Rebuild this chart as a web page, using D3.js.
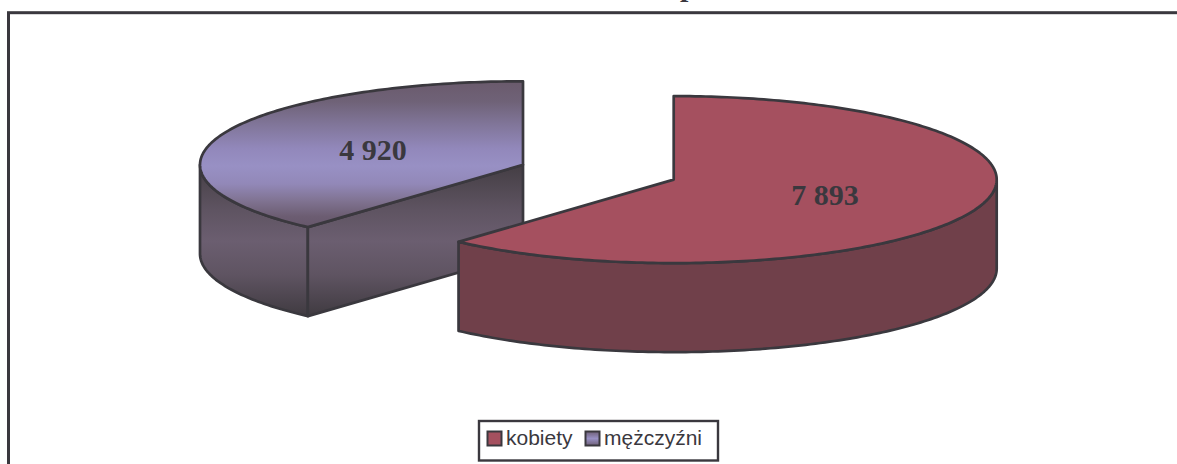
<!DOCTYPE html>
<html><head><meta charset="utf-8">
<script src="https://cdn.jsdelivr.net/npm/d3@7"></script>
<style>html,body{margin:0;padding:0;background:#fff;overflow:hidden}svg{display:block}</style>
</head><body><svg id="c" width="1177" height="464"></svg>
<script>
const categories = ["kobiety", "mężczyźni"];
const values = [7893, 4920];
const valueLabels = ["7 893", "4 920"];
const centers = [[673.7, 179.6], [523, 164.8]];
const labelPos = [[825, 205], [373, 160]];
const topColors = ["#a5505f", "#9890c4"];
const titleFragment = "p";
const INK = "#3a383e";
const RX = 323, RY = 83.5, DEPTH = 89;

const svg = d3.select("#c");
const defs = svg.append("defs");

function vgrad(id, y1, y2, stops, units) {
  const g = defs.append("linearGradient").attr("id", id);
  if (units) g.attr("gradientUnits", "userSpaceOnUse").attr("x1", 0).attr("x2", 0).attr("y1", y1).attr("y2", y2);
  else g.attr("x1", 0).attr("x2", 0).attr("y1", 0).attr("y2", 1);
  stops.forEach(s => g.append("stop").attr("offset", s[0]).attr("stop-color", s[1]));
}
vgrad("blueTop", 81, 228, [[0, "#6a5a6c"], [.14, "#6f6277"], [.3, "#81769a"], [.46, "#9288bb"], [.58, "#9890c4"], [.7, "#9288b8"], [.82, "#7f7290"], [.92, "#6c5d72"], [1, "#66566a"]], true);
vgrad("blueSide", 165, 317, [[0, "#443e44"], [.3, "#5f5462"], [.5, "#6b5e70"], [.72, "#5f5462"], [1, "#3f3a40"]], true);
vgrad("blueSwatch", 0, 1, [[0, "#6f6078"], [.5, "#9890c4"], [1, "#6f6078"]], false);

const pie = d3.pie().sort(null).value(d => d);
const arcs = pie(values);
const line = d3.line();

function geometry(i) {
  const [cx, cy] = centers[i];
  const x = d3.scaleLinear().domain([-1, 1]).range([cx - RX, cx + RX]);
  const y = d3.scaleLinear().domain([-1, 1]).range([cy - RY, cy + RY]);
  const pt = (a, dz = 0) => [x(Math.sin(a)), y(-Math.cos(a)) + dz];
  const sweep = (a0, a1, dz = 0) => {
    const n = Math.ceil(Math.abs(a1 - a0) * 60);
    return d3.range(n + 1).map(k => pt(a0 + (a1 - a0) * k / n, dz));
  };
  return { cx, cy, pt, sweep };
}
const shape = (pts, fill) => svg.append("path")
  .attr("d", line(pts) + "Z").attr("fill", fill)
  .attr("stroke", INK).attr("stroke-width", 2.7).attr("stroke-linejoin", "round");

// mężczyźni slice (behind)
{
  const a = arcs[1], g = geometry(1);
  const c = [g.cx, g.cy], cd = [g.cx, g.cy + DEPTH];
  const s = a.startAngle, e = a.endAngle;
  shape([...g.sweep(s, 3 * Math.PI / 2), ...g.sweep(3 * Math.PI / 2, s, DEPTH)], "url(#blueSide)");
  shape([c, g.pt(s), g.pt(s, DEPTH), cd], "url(#blueSide)");
  shape([c, ...g.sweep(s, e)], "url(#blueTop)");
}
// kobiety slice (front)
{
  const a = arcs[0], g = geometry(0);
  const s = a.startAngle, e = a.endAngle;
  shape([...g.sweep(Math.PI / 2, e), ...g.sweep(e, Math.PI / 2, DEPTH)], "#70404a");
  shape([[g.cx, g.cy], ...g.sweep(s, e)], topColors[0]);
}

svg.selectAll("text.val").data(valueLabels).join("text").attr("class", "val")
  .attr("x", (d, i) => labelPos[i][0]).attr("y", (d, i) => labelPos[i][1])
  .attr("text-anchor", "middle")
  .attr("font-family", "'Liberation Serif', serif").attr("font-weight", "bold")
  .attr("font-size", 30).attr("fill", INK).text(d => d);

// the only part of the cropped title still visible
svg.append("text").attr("x", 680).attr("y", -4.5)
  .attr("font-family", "'Liberation Serif', serif").attr("font-weight", "bold")
  .attr("font-size", 30).attr("fill", INK).text(titleFragment);

// frame
svg.append("rect").attr("x", 8.5).attr("y", 12.7).attr("width", 1300).attr("height", 600)
  .attr("fill", "none").attr("stroke", INK).attr("stroke-width", 3);

// legend
const legend = svg.append("g");
legend.append("rect").attr("x", 479).attr("y", 421).attr("width", 239).attr("height", 39.5)
  .attr("fill", "#fff").attr("stroke", INK).attr("stroke-width", 2.4);
const legendX = [487.5, 585.5];
const swatchFill = ["#a5505f", "url(#blueSwatch)"];
categories.forEach((c, i) => {
  legend.append("rect").attr("x", legendX[i]).attr("y", 431.5).attr("width", 14).attr("height", 14)
    .attr("fill", swatchFill[i]).attr("stroke", INK).attr("stroke-width", 2);
  legend.append("text").attr("x", legendX[i] + 18.5).attr("y", 444.5)
    .attr("font-family", "'Liberation Sans', sans-serif").attr("font-size", 21)
    .attr("fill", INK).text(c);
});
</script></body></html>
